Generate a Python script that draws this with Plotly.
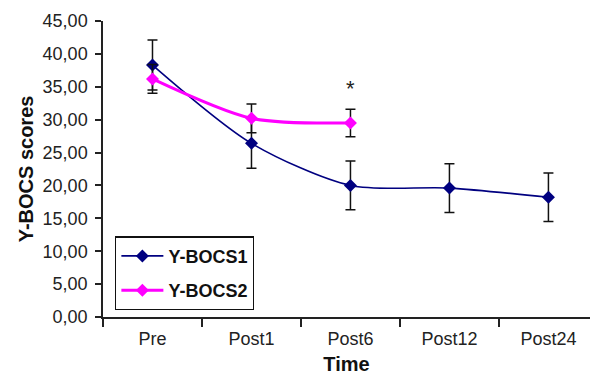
import plotly.graph_objects as go

categories = ["Pre", "Post1", "Post6", "Post12", "Post24"]
ybocs1 = [38.3, 26.4, 20.0, 19.6, 18.2]
ybocs1_err = [3.8, 3.8, 3.7, 3.7, 3.7]
ybocs2_cats = ["Pre", "Post1", "Post6"]
ybocs2 = [36.2, 30.2, 29.5]
ybocs2_err = [2.2, 2.2, 2.1]
y_ticks = [0, 5, 10, 15, 20, 25, 30, 35, 40, 45]

FONT = "Liberation Sans, Arial, Helvetica, sans-serif"

fig = go.Figure()
fig.add_trace(go.Scatter(
    x=categories, y=ybocs1, name="Y-BOCS1", mode="lines+markers", legendgroup="a",
    line=dict(color="#000080", width=1.6, shape="spline", smoothing=0.8),
    marker=dict(symbol="diamond", size=10, color="#000080"),
    error_y=dict(type="data", array=ybocs1_err, visible=True, color="#111111", thickness=1.5, width=5),
))
fig.add_trace(go.Scatter(
    x=ybocs2_cats, y=ybocs2, name="Y-BOCS2", mode="lines+markers", legendgroup="b",
    line=dict(color="#FF00FF", width=3, shape="spline", smoothing=0.8),
    marker=dict(symbol="diamond", size=10, color="#FF00FF"),
    error_y=dict(type="data", array=ybocs2_err, visible=True, color="#111111", thickness=1.5, width=5),
))

fig.add_annotation(x="Post6", y=34.8, text="*", showarrow=False,
                   font=dict(family=FONT, size=22, color="#222222"))

fig.update_layout(
    width=590, height=375,
    margin=dict(l=103, r=0, t=21, b=58),
    paper_bgcolor="white", plot_bgcolor="white",
    separators=",.",
    font=dict(family=FONT, color="#222222"),
    showlegend=True,
    legend=dict(x=0.025, y=0.272, xanchor="left", yanchor="top",
                bordercolor="#111111", borderwidth=1.2, bgcolor="white",
                font=dict(family=FONT, size=18, color="#111111", weight="bold"),
                itemwidth=42, traceorder="grouped", tracegroupgap=8),
    xaxis=dict(
        type="category", categoryorder="array", categoryarray=categories,
        range=[-0.5, 4.42], automargin=False,
        showline=True, linecolor="#222222", linewidth=1.5,
        ticks="outside", tickson="boundaries", ticklen=8, tickwidth=1.5, tickcolor="#222222",
        ticklabelstandoff=5,
        tickfont=dict(family=FONT, size=18, color="#222222"),
        showgrid=False, zeroline=False,
        title=dict(text="<b>Time</b>", font=dict(family=FONT, size=20, color="#111111"), standoff=14),
    ),
    yaxis=dict(
        range=[0, 45], tickvals=y_ticks, tickformat=".2f", automargin=False,
        showline=True, linecolor="#222222", linewidth=1.5,
        ticks="outside", ticklen=6, tickwidth=1.5, tickcolor="#222222", ticklabelstandoff=4,
        tickfont=dict(family=FONT, size=18, color="#222222"),
        showgrid=False, zeroline=False,
        title=dict(text="<b>Y-BOCS scores</b>", font=dict(family=FONT, size=20, color="#111111"), standoff=4),
    ),
)

fig.write_html("out.html", config={"displayModeBar": False},
               post_script="document.body.style.margin='0px';")
